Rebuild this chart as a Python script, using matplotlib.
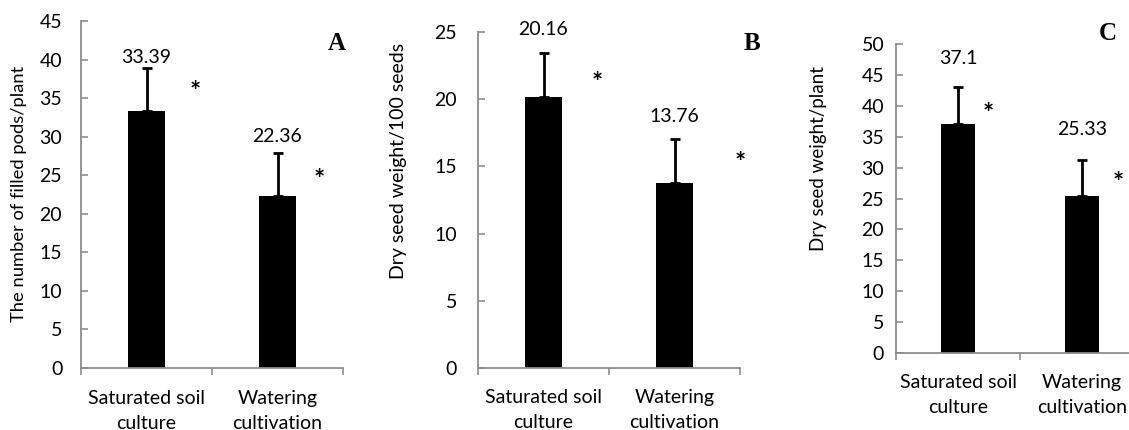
import matplotlib
matplotlib.use("Agg")
import matplotlib.pyplot as plt

plt.rcParams['font.family'] = ['Lato', 'DejaVu Sans']

categories = ["Saturated soil\nculture", "Watering\ncultivation"]

# Panel A
pods_values = [33.39, 22.36]
pods_err = [5.5, 5.5]
pods_labels = ["33.39", "22.36"]
# Panel B
seed100_values = [20.16, 13.76]
seed100_err = [3.25, 3.25]
seed100_labels = ["20.16", "13.76"]
# Panel C
seedplant_values = [37.1, 25.33]
seedplant_err = [5.9, 5.9]
seedplant_labels = ["37.1", "25.33"]

panels = [
    dict(vals=pods_values, err=pods_err, labels=pods_labels, letter="A",
         ylabel="The number of filled pods/plant", ymax=45, step=5,
         rect=[81, 21, 343, 368], label_y=[40.3, 30.0],
         star_xy=[(0.37, 36.7), (1.317, 25.3)], letter_px=(337, 43),
         ylab_coords=(-0.206, 0.501), ylab_fs=13.2, ypad=13.5, xpad=16),
    dict(vals=seed100_values, err=seed100_err, labels=seed100_labels, letter="B",
         ylabel="Dry seed weight/100 seeds", ymax=25, step=5,
         rect=[478, 32, 740, 368], label_y=[25.15, 18.7],
         star_xy=[(0.408, 21.7), (1.5, 15.8)], letter_px=(752, 43),
         ylab_coords=(-0.271, 0.616), ylab_fs=14, ypad=15, xpad=15),
    dict(vals=seedplant_values, err=seedplant_err, labels=seedplant_labels, letter="C",
         ylabel="Dry seed weight/plant", ymax=50, step=5,
         rect=[896, 44, 1144, 353], label_y=[47.6, 36.2],
         star_xy=[(0.242, 39.8), (1.29, 28.6)], letter_px=(1108, 34),
         ylab_coords=(-0.278, 0.628), ylab_fs=13.5, ypad=8.5, xpad=15),
]

W, H = 1129, 430
fig = plt.figure(figsize=(W / 100, H / 100), dpi=100)
axis_color = "#8c8c8c"
fs = 14

for p in panels:
    x0, y0, x1, y1 = p["rect"]
    ax = fig.add_axes([x0 / W, 1 - y1 / H, (x1 - x0) / W, (y1 - y0) / H])
    xs = list(range(len(categories)))
    ax.bar(xs, p["vals"], width=0.28, color="black", zorder=2)
    ax.errorbar(xs, p["vals"], yerr=[[0] * len(xs), p["err"]], fmt="none",
                ecolor="black", elinewidth=2, capsize=3.5, capthick=2, zorder=3)
    for x, ly, t in zip(xs, p["label_y"], p["labels"]):
        ax.text(x, ly, t, ha="center", va="center", fontsize=fs, clip_on=False)
    for sx, sy in p["star_xy"]:
        ax.annotate("*", xy=(sx, sy), xytext=(0, -5), textcoords="offset points",
                    ha="center", va="center", fontsize=19, fontweight="bold",
                    annotation_clip=False)
    ax.set_xlim(-0.5, 1.5)
    ax.set_ylim(0, p["ymax"])
    ax.set_yticks(range(0, p["ymax"] + 1, p["step"]))
    ax.set_xticks([-0.5, 0.5, 1.5], minor=False)
    ax.set_xticklabels(["", "", ""])
    ax.set_xticks(xs, minor=True)
    ax.set_xticklabels(categories, minor=True, fontsize=fs, linespacing=1.55)
    ax.tick_params(axis="x", which="major", direction="out", length=5,
                   width=1.2, color=axis_color)
    ax.tick_params(axis="x", which="minor", length=0, pad=p["xpad"])
    ax.tick_params(axis="y", direction="in", length=5, width=1.2,
                   color=axis_color, labelsize=fs, pad=p["ypad"])
    for s in ["top", "right"]:
        ax.spines[s].set_visible(False)
    for s in ["left", "bottom"]:
        ax.spines[s].set_color(axis_color)
        ax.spines[s].set_linewidth(1.3)
    ax.set_ylabel(p["ylabel"], fontsize=p["ylab_fs"])
    ax.yaxis.set_label_coords(*p["ylab_coords"])
    lx, ly = p["letter_px"]
    fig.text(lx / W, 1 - ly / H, p["letter"], ha="center", va="center",
             fontsize=18, fontweight="bold", family="Liberation Serif")

fig.savefig("out.png", dpi=100)
